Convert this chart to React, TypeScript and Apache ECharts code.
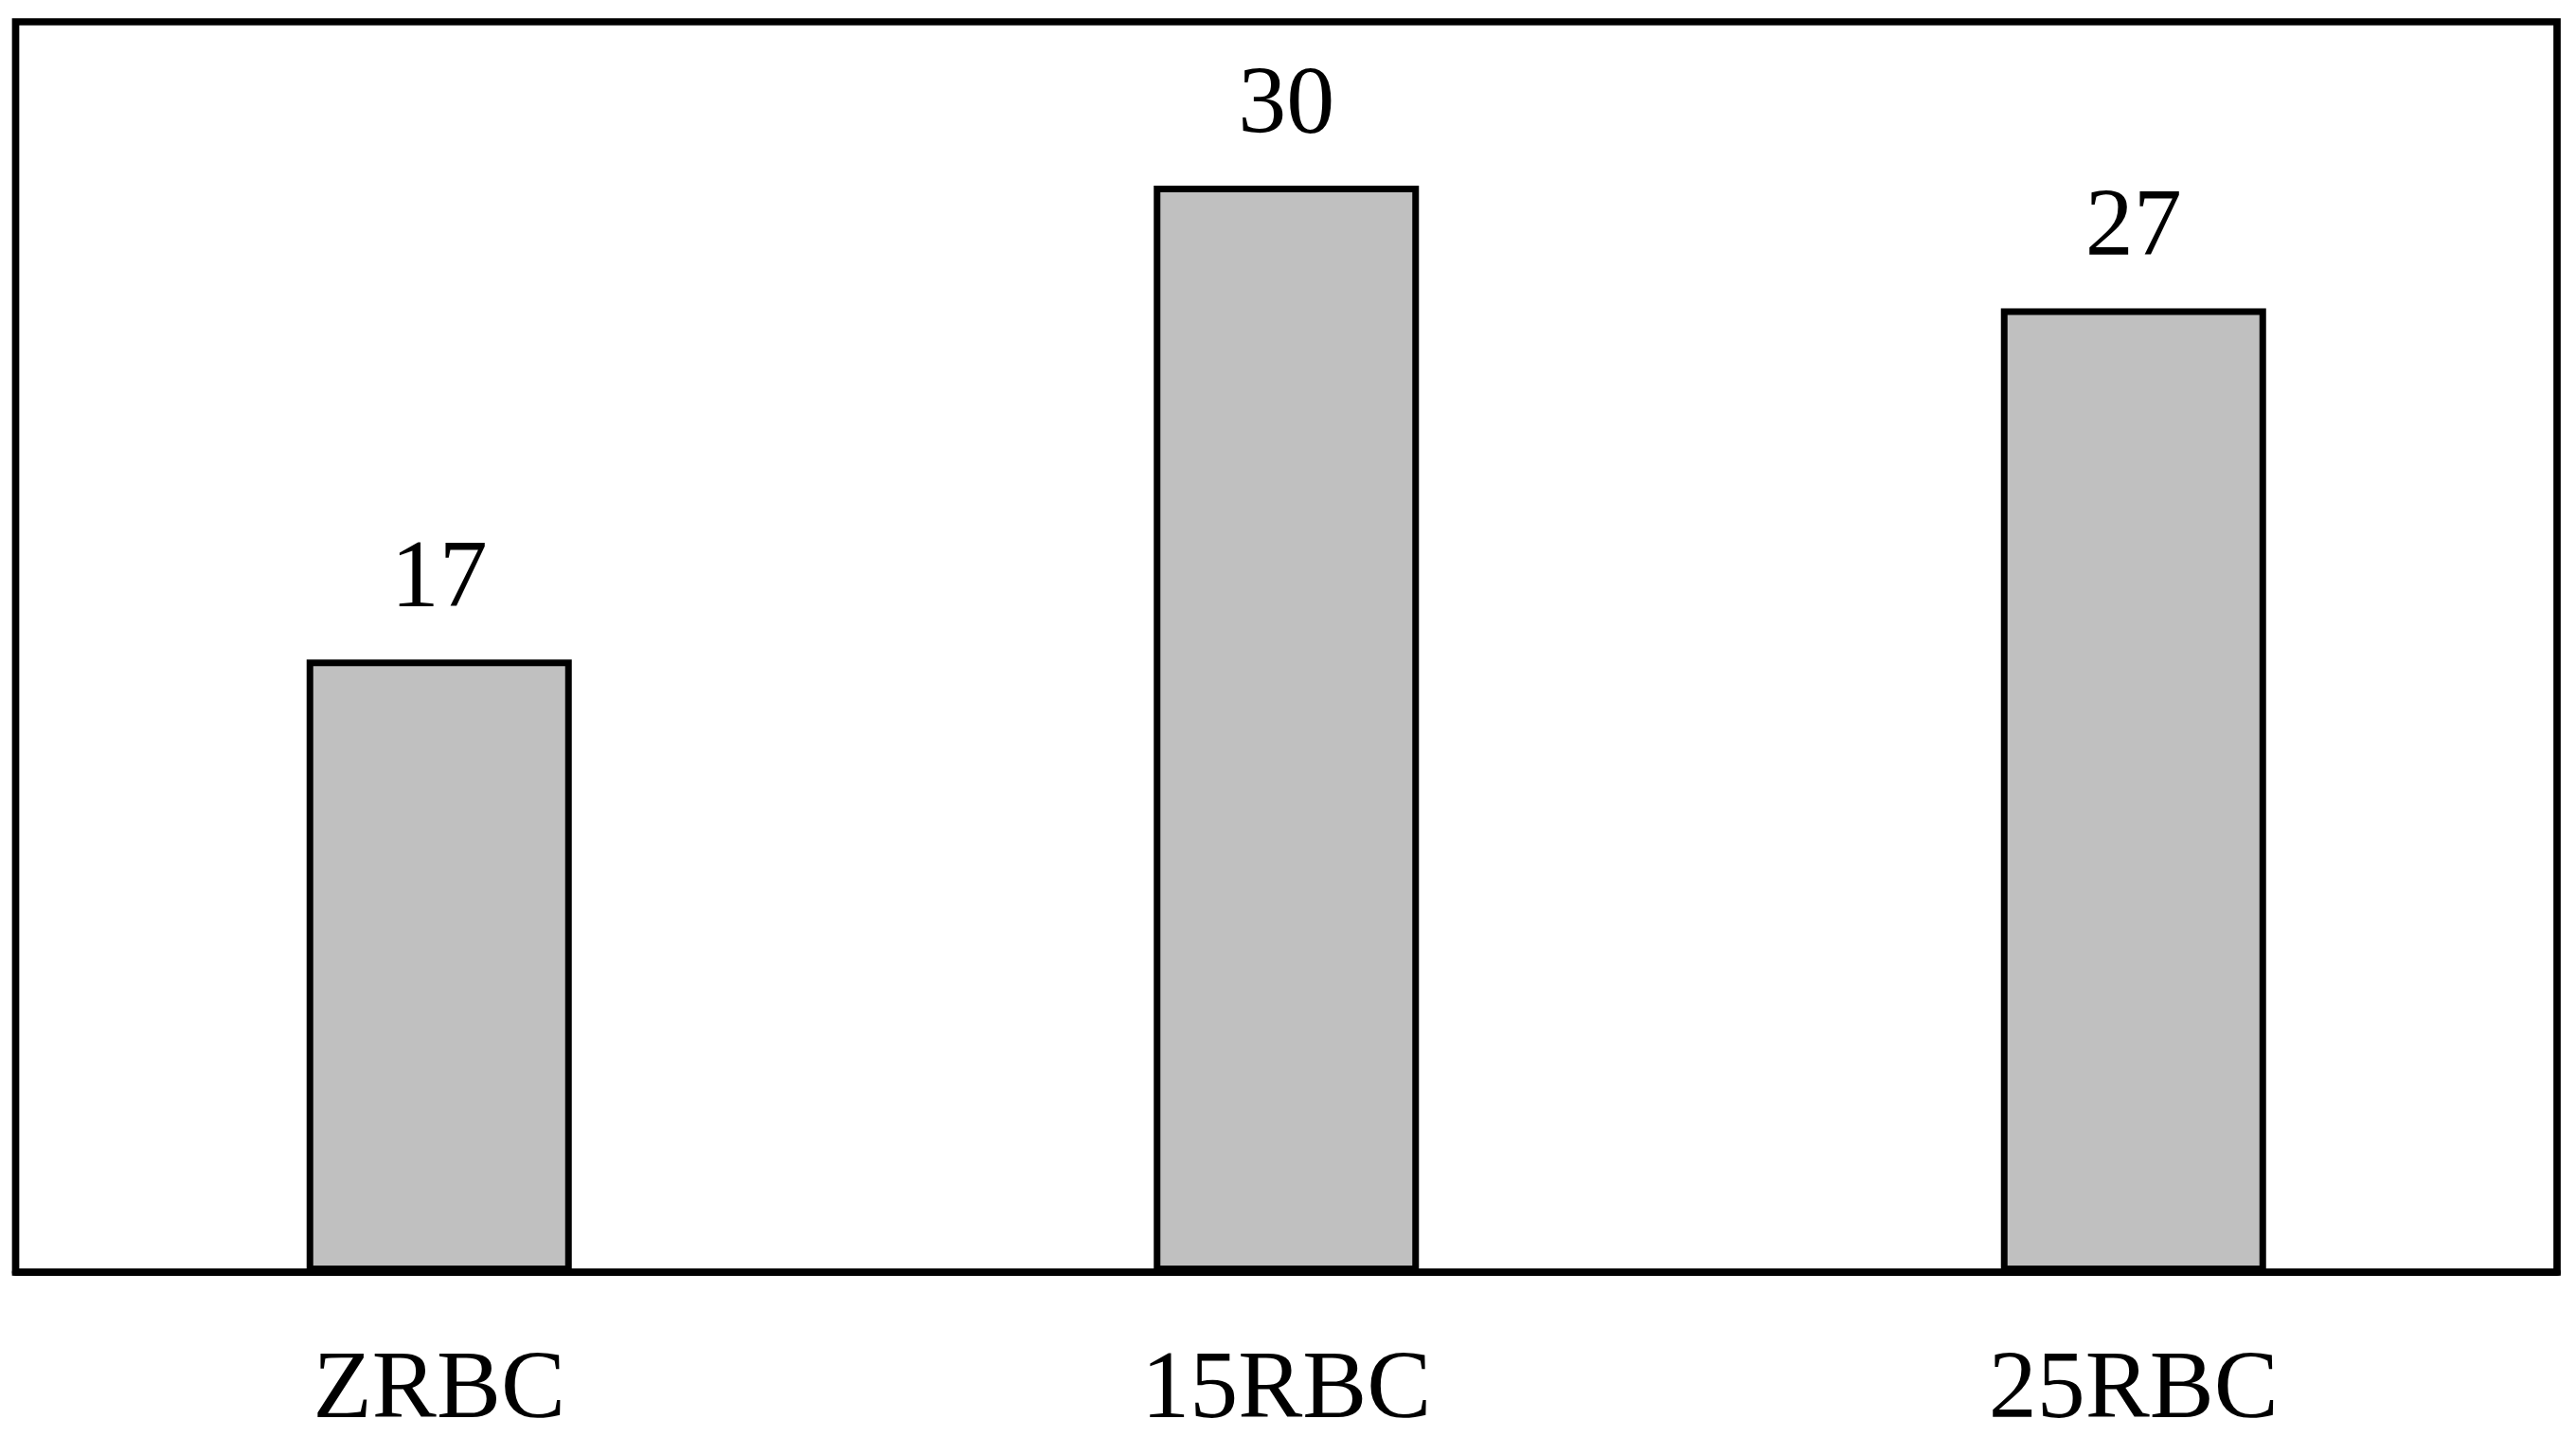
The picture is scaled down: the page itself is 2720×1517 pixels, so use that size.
import React, { useEffect, useRef } from "react";
import * as echarts from "echarts";

const categories = ["ZRBC", "15RBC", "25RBC"];
// bar heights; labels show them rounded
const values = [17, 30.15, 26.75];
const yMax = 34.7;

export default function App() {
  const ref = useRef<HTMLDivElement>(null);
  useEffect(() => {
    if (!ref.current) return;
    const chart = echarts.init(ref.current, undefined, { renderer: "svg" });
    const font = "'Liberation Serif', 'Times New Roman', serif";
    chart.setOption({
      animation: false,
      backgroundColor: "#ffffff",
      grid: {
        left: 16.5,
        right: 20,
        top: 23,
        bottom: 174,
        show: true,
        borderColor: "#000000",
        borderWidth: 7.7,
        backgroundColor: "transparent",
      },
      xAxis: {
        type: "category",
        data: categories,
        axisLine: { show: true, lineStyle: { color: "#000000", width: 7.7 } },
        axisTick: { show: false },
        axisLabel: {
          color: "#000000",
          fontFamily: font,
          fontSize: 102,
          margin: 67,
        },
      },
      yAxis: {
        type: "value",
        min: 0,
        max: yMax,
        show: false,
        splitLine: { show: false },
      },
      series: [
        {
          type: "bar",
          data: values,
          barWidth: 280,
          itemStyle: {
            color: "#c0c0c0",
            borderColor: "#000000",
            borderWidth: 7,
          },
          label: {
            show: true,
            position: "top",
            distance: 40,
            color: "#000000",
            fontFamily: font,
            fontSize: 102,
            formatter: (p: any) => String(Math.round(p.value)),
          },
        },
      ],
    });
    return () => chart.dispose();
  }, []);
  return (
    <div
      ref={ref}
      style={{ position: "fixed", left: 0, top: 0, width: 2720, height: 1517, background: "#fff" }}
    />
  );
}
